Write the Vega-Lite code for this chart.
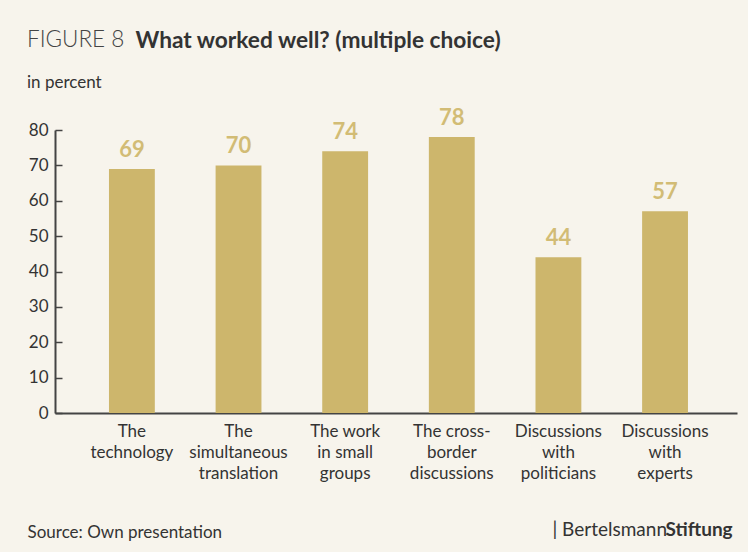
{
  "$schema": "https://vega.github.io/schema/vega-lite/v6.json",
  "width": 682,
  "height": 283,
  "autosize": {"type": "none"},
  "padding": {"left": 55, "top": 130, "right": 11, "bottom": 139},
  "background": "#f7f4ec",
  "config": {"view": {"stroke": null}, "font": "Lato"},
  "title": {
    "text": "FIGURE 8",
    "subtitle": "in percent",
    "anchor": "start",
    "frame": "group",
    "dx": -28,
    "offset": -62,
    "font": "Lato",
    "fontSize": 22.5,
    "fontWeight": 300,
    "color": "#444444",
    "subtitleFont": "Lato",
    "subtitleFontSize": 17,
    "subtitleFontWeight": "normal",
    "subtitleColor": "#333333",
    "subtitlePadding": 24
  },
  "data": {
    "values": [
      {"item": "The\ntechnology", "value": 69},
      {"item": "The\nsimultaneous\ntranslation", "value": 70},
      {"item": "The work\nin small\ngroups", "value": 74},
      {"item": "The cross-\nborder\ndiscussions", "value": 78},
      {"item": "Discussions\nwith\npoliticians", "value": 44},
      {"item": "Discussions\nwith\nexperts", "value": 57}
    ]
  },
  "layer": [
    {
      "mark": {"type": "bar", "color": "#cdb66c"},
      "encoding": {
        "x": {
          "field": "item",
          "type": "nominal",
          "sort": null,
          "scale": {"paddingInner": 0.57, "paddingOuter": 0.483, "align": 0.524},
          "axis": {
            "orient": "bottom",
            "labelExpr": "split(datum.label, '\\n')",
            "labelAngle": 0,
            "labelFont": "Lato",
            "labelFontSize": 17,
            "labelColor": "#333333",
            "labelLineHeight": 21,
            "labelPadding": 10,
            "labelBaseline": "top",
            "ticks": false,
            "domainColor": "#444444",
            "domainWidth": 2,
            "title": "Source: Own presentation",
            "titleFont": "Lato",
            "titleFontSize": 17,
            "titleFontWeight": "normal",
            "titleColor": "#333333",
            "titleAlign": "left",
            "titleBaseline": "alphabetic",
            "titleX": -28,
            "titleY": 124
          }
        },
        "y": {
          "field": "value",
          "type": "quantitative",
          "scale": {"domain": [0, 80], "nice": false},
          "axis": {
            "orient": "left",
            "values": [0, 10, 20, 30, 40, 50, 60, 70, 80],
            "grid": false,
            "labelFont": "Lato",
            "labelFontSize": 17,
            "labelColor": "#333333",
            "labelPadding": 14,
            "tickSize": -7,
            "tickColor": "#444444",
            "tickWidth": 1.5,
            "domainColor": "#444444",
            "domainWidth": 2,
            "title": "What worked well? (multiple choice)",
            "titleFont": "Lato",
            "titleFontSize": 22.7,
            "titleFontWeight": "bold",
            "titleColor": "#333333",
            "titleAngle": 0,
            "titleAlign": "left",
            "titleBaseline": "alphabetic",
            "titleX": 80,
            "titleY": -83
          }
        }
      }
    },
    {
      "mark": {
        "type": "text",
        "font": "Lato",
        "fontSize": 22,
        "fontWeight": "bold",
        "color": "#d2bc75",
        "baseline": "alphabetic",
        "dy": -12
      },
      "encoding": {
        "x": {
          "field": "item",
          "type": "nominal",
          "sort": null,
          "scale": {"paddingInner": 0.57, "paddingOuter": 0.483, "align": 0.524},
          "axis": {
            "orient": "top",
            "labels": false,
            "ticks": false,
            "domain": false,
            "grid": false,
            "title": "Stiftung",
            "titleFont": "Lato",
            "titleFontSize": 19,
            "titleFontWeight": "bold",
            "titleColor": "#333333",
            "titleAlign": "left",
            "titleBaseline": "alphabetic",
            "titleX": 610,
            "titleY": 405
          }
        },
        "y": {
          "field": "value",
          "type": "quantitative",
          "scale": {"domain": [0, 80], "nice": false},
          "axis": {
            "orient": "right",
            "labels": false,
            "ticks": false,
            "domain": false,
            "grid": false,
            "title": "| Bertelsmann",
            "titleFont": "Lato",
            "titleFontSize": 19,
            "titleFontWeight": "normal",
            "titleColor": "#333333",
            "titleAngle": 0,
            "titleAlign": "left",
            "titleBaseline": "alphabetic",
            "titleX": -185,
            "titleY": 405
          }
        },
        "text": {"field": "value", "type": "quantitative"}
      }
    }
  ],
  "resolve": {"axis": {"x": "independent", "y": "independent"}}
}
